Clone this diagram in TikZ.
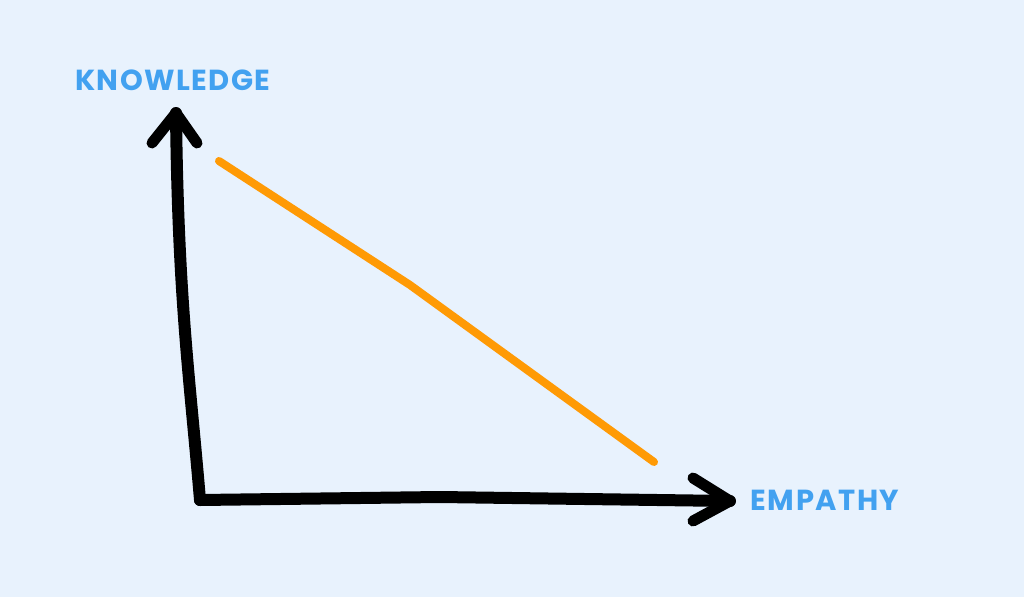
\documentclass[tikz,border=0pt]{standalone}
\usepackage{fontspec}
\setmainfont{Fira Sans}
\newfontfamily\labelfont[LetterSpace=5]{Poppins}
\usepackage{tikz}

\definecolor{bgblue}{HTML}{E8F2FD}
\definecolor{labelblue}{HTML}{42A1F0}
\definecolor{trendorange}{HTML}{FF9A05}

\begin{document}
\begin{tikzpicture}[
   x=1pt,y=-1pt,
   font=\labelfont\bfseries\fontsize{29}{32}\selectfont,
   axis/.style={line width=12pt,line cap=round,line join=round},
   tip/.style={line width=11pt,line cap=round,line join=round},
   trend/.style={trendorange,line width=8pt,line cap=round,line join=round},
   lbl/.style={text=labelblue,inner sep=0pt}]
\fill[bgblue] (0,0) rectangle (1024,597);
\useasboundingbox (0,0) rectangle (1024,597);
\coordinate (O) at (200,500);
\coordinate (Y) at (176,113);
\coordinate (X) at (730,501);
\node[lbl] (K) at (173,80) {KNOWLEDGE};
\node[lbl] (E) at (825,500) {EMPATHY};
\draw[axis] (O) .. controls (190,380) and (178,300) .. (Y);
\draw[axis] (O) -- (440,497) -- (X);
\draw[tip] (152,143) -- (Y) -- (197,143);
\draw[tip] (693,478) -- (X) -- (693,521);
\coordinate (A) at (219,161);
\coordinate (B) at (410,285);
\coordinate (C) at (654,462);
\draw[trend] (A) -- (B) -- (C);
\end{tikzpicture}
\end{document}
